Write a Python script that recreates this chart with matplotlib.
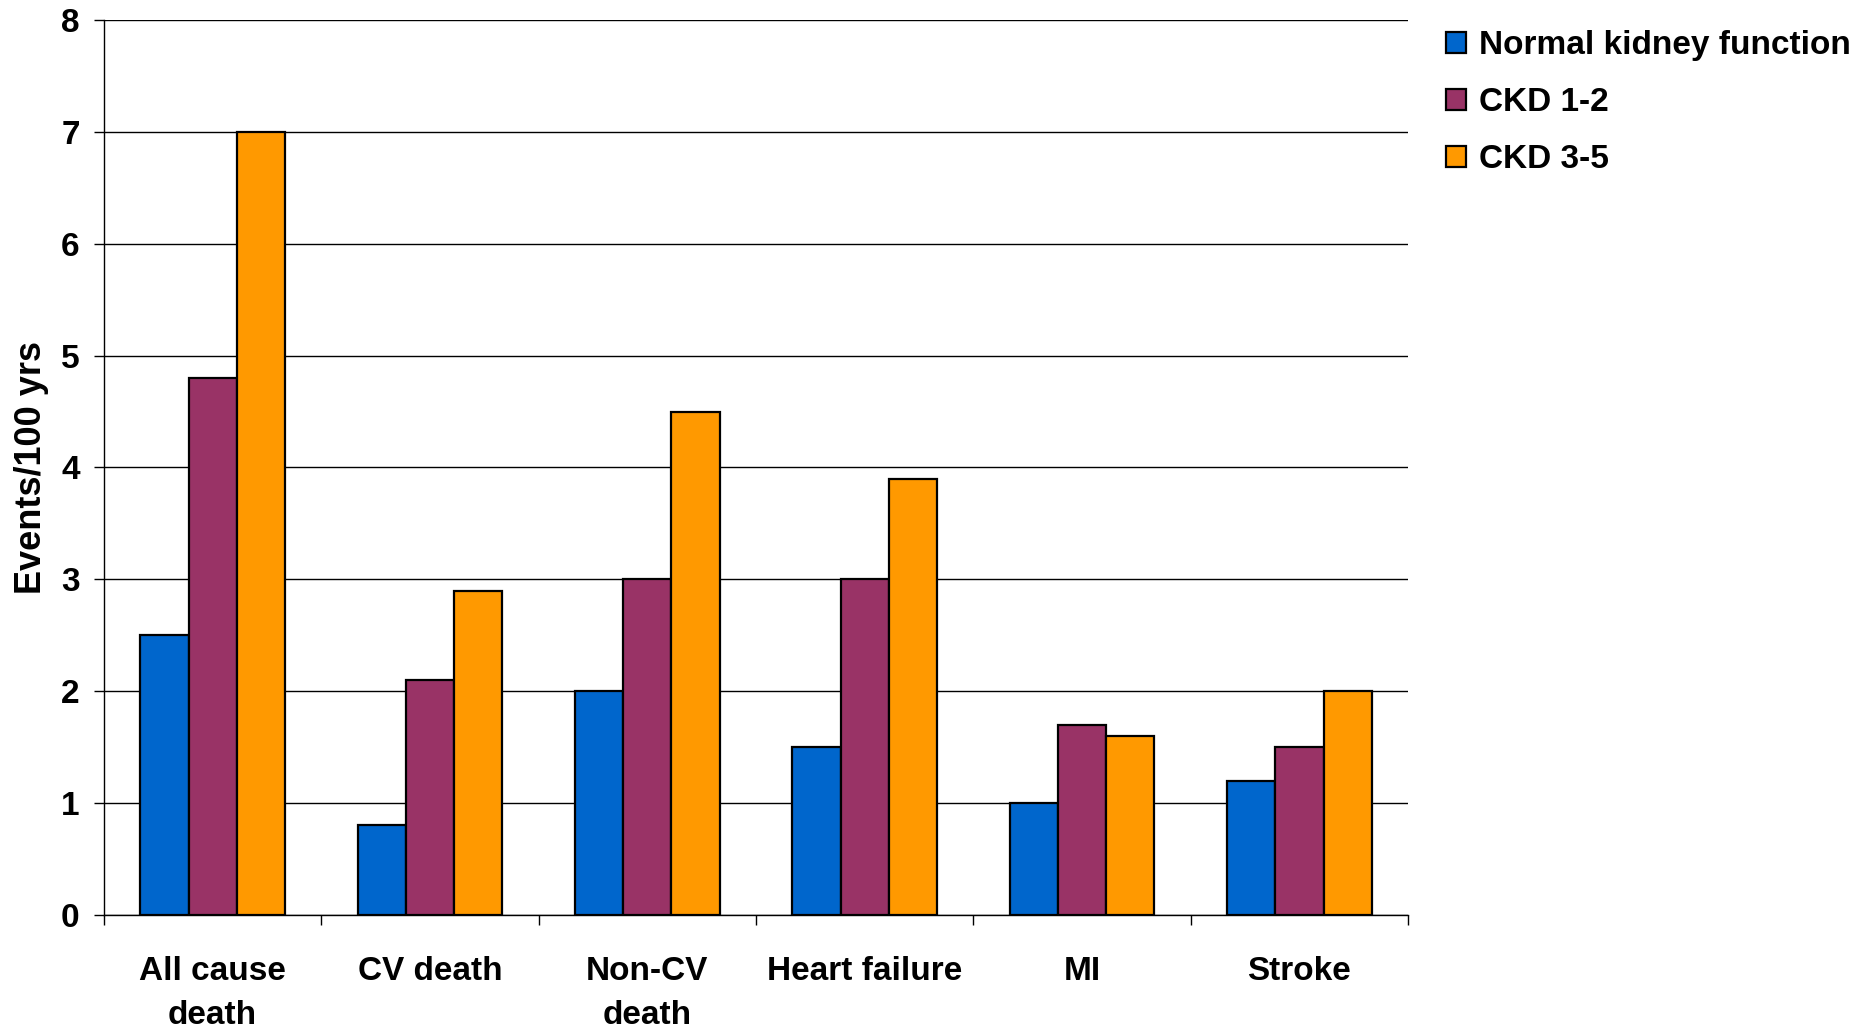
import numpy as np
import matplotlib
matplotlib.use("Agg")
import matplotlib.pyplot as plt
from matplotlib.ticker import FixedLocator

plt.rcParams['font.family'] = ['Liberation Sans', 'DejaVu Sans']
plt.rcParams['font.weight'] = 'bold'

categories = ["All cause\ndeath", "CV death", "Non-CV\ndeath", "Heart failure", "MI", "Stroke"]
series_names = ["Normal kidney function", "CKD 1-2", "CKD 3-5"]
normal = [2.5, 0.8, 2.0, 1.5, 1.0, 1.2]
ckd_12 = [4.8, 2.1, 3.0, 3.0, 1.7, 1.5]
ckd_35 = [7.0, 2.9, 4.5, 3.9, 1.6, 2.0]
colors = ["#0066CC", "#993366", "#FF9900"]

fig = plt.figure(figsize=(18.7, 10.34), dpi=100)
ax = fig.add_axes([0.0556, 0.1151, 0.6974, 0.8656])

x = np.arange(len(categories))
w = 0.222
for i, (vals, name, c) in enumerate(zip([normal, ckd_12, ckd_35], series_names, colors)):
    ax.bar(x + (i - 1) * w, vals, width=w, color=c, edgecolor="black",
           linewidth=1.6, label=name, zorder=3)

ax.set_xlim(-0.5, len(categories) - 0.5)
ax.set_ylim(0, 8)
ax.set_yticks(range(9))
ax.yaxis.grid(True, color="black", linewidth=1.0, zorder=0)
ax.set_axisbelow(True)

# category labels centred, tick marks on the group boundaries
ax.set_xticks(x)
ax.set_xticklabels(categories, fontsize=24, fontweight="bold", linespacing=1.55)
ax.xaxis.set_minor_locator(FixedLocator(np.arange(-0.5, len(categories), 1.0)))
ax.tick_params(axis="x", which="major", length=0, pad=29.5)
ax.tick_params(axis="x", which="minor", length=7.5, width=1.0, direction="out")
ax.tick_params(axis="y", length=7.5, width=1.0, pad=10, labelsize=24)
for lab in ax.get_yticklabels():
    lab.set_fontweight("bold")

for s in ["top", "right"]:
    ax.spines[s].set_visible(False)
ax.spines["left"].set_linewidth(1.0)
ax.spines["bottom"].set_linewidth(1.0)

ax.set_ylabel("Events/100 yrs", fontsize=26, fontweight="bold")
ax.yaxis.set_label_coords(-0.042, 0.5)

fig.legend(loc="upper left", bbox_to_anchor=(1446 / 1870, 1 - 30 / 1034),
           frameon=False, handlelength=0.6, handleheight=0.6,
           handletextpad=0.4, labelspacing=0.78, borderpad=0, borderaxespad=0,
           prop={"weight": "bold", "size": 24})

fig.savefig("out.png", dpi=100)
